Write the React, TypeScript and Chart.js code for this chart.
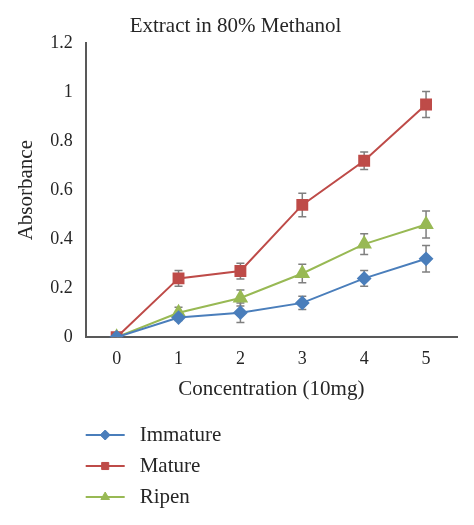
import React, { useEffect, useRef } from "react";
import { Chart, registerables } from "chart.js";
import { drawPoint } from "chart.js/helpers";

Chart.register(...registerables);

const categories = ["0", "1", "2", "3", "4", "5"];
const immature = [0, 0.08, 0.1, 0.14, 0.24, 0.32];
const immatureErr = [0, 0.012, 0.04, 0.027, 0.032, 0.054];
const mature = [0, 0.24, 0.27, 0.54, 0.72, 0.95];
const matureErr = [0, 0.032, 0.032, 0.048, 0.036, 0.053];
const ripen = [0, 0.1, 0.16, 0.26, 0.38, 0.46];
const ripenErr = [0, 0.022, 0.033, 0.038, 0.042, 0.055];
const seriesNames = ["Immature", "Mature", "Ripen"];

const FONT = "'Liberation Serif', 'Times New Roman', serif";
const TEXT = "#262626";

const errorBarPlugin = {
  id: "errorBars",
  beforeDatasetsDraw(chart: any) {
    const ctx = chart.ctx;
    const y = chart.scales.y;
    ctx.save();
    ctx.strokeStyle = "#7f7f7f";
    ctx.lineWidth = 1.5;
    chart.data.datasets.forEach((ds: any, di: number) => {
      const meta = chart.getDatasetMeta(di);
      const errs: number[] = ds.errors || [];
      meta.data.forEach((pt: any, i: number) => {
        const e = errs[i];
        if (!e) return;
        const v = ds.data[i];
        const x = pt.x;
        const yt = y.getPixelForValue(v + e);
        const yb = y.getPixelForValue(v - e);
        const cap = 4;
        ctx.beginPath();
        ctx.moveTo(x, yt);
        ctx.lineTo(x, yb);
        ctx.moveTo(x - cap, yt);
        ctx.lineTo(x + cap, yt);
        ctx.moveTo(x - cap, yb);
        ctx.lineTo(x + cap, yb);
        ctx.stroke();
      });
    });
    ctx.restore();
  },
};

const legendPlugin = {
  id: "verticalLegend",
  afterDraw(chart: any) {
    const ctx = chart.ctx;
    const left = chart.chartArea.left;
    const top = chart.scales.x.bottom + 33;
    const gap = 31;
    ctx.save();
    chart.data.datasets.forEach((ds: any, i: number) => {
      const yy = top + i * gap;
      ctx.strokeStyle = ds.borderColor;
      ctx.lineWidth = 2;
      ctx.beginPath();
      ctx.moveTo(left, yy);
      ctx.lineTo(left + 39, yy);
      ctx.stroke();
      ctx.fillStyle = ds.backgroundColor;
      ctx.strokeStyle = ds.borderColor;
      ctx.lineWidth = 1;
      drawPoint(ctx, { pointStyle: ds.pointStyle, radius: 5, borderWidth: 1, rotation: 0 } as any, left + 19.5, yy);
      ctx.fillStyle = TEXT;
      ctx.font = `21px ${FONT}`;
      ctx.textBaseline = "middle";
      ctx.textAlign = "left";
      ctx.fillText(ds.label, left + 54, yy);
    });
    ctx.restore();
  },
};

export default function App() {
  const ref = useRef<HTMLCanvasElement | null>(null);
  useEffect(() => {
    if (!ref.current) return;
    const chart = new Chart(ref.current, {
      type: "line",
      data: {
        labels: categories,
        datasets: [
          {
            label: seriesNames[0],
            data: immature,
            errors: immatureErr,
            borderColor: "#4a7ebb",
            backgroundColor: "#4a7ebb",
            pointStyle: "rectRot",
            pointRadius: 6,
            borderWidth: 2,
          } as any,
          {
            label: seriesNames[1],
            data: mature,
            errors: matureErr,
            borderColor: "#be4b48",
            backgroundColor: "#be4b48",
            pointStyle: "rect",
            pointRadius: 7,
            borderWidth: 2,
          } as any,
          {
            label: seriesNames[2],
            data: ripen,
            errors: ripenErr,
            borderColor: "#98b954",
            backgroundColor: "#98b954",
            pointStyle: "triangle",
            pointRadius: 7,
            borderWidth: 2,
          } as any,
        ],
      },
      options: {
        animation: false,
        responsive: true,
        maintainAspectRatio: false,
        layout: { padding: { top: 10, left: 14, right: 17, bottom: 123 } },
        plugins: {
          legend: { display: false },
          tooltip: { enabled: false },
          title: {
            display: true,
            text: "Extract in 80% Methanol",
            color: TEXT,
            font: { family: FONT, size: 21, weight: "normal" },
            padding: { top: 4, bottom: 4 },
          },
        },
        scales: {
          x: {
            offset: true,
            grid: { display: true, drawOnChartArea: false, drawTicks: false },
            border: { display: true, color: "#595959", width: 2 },
            ticks: { color: TEXT, font: { family: FONT, size: 18 }, padding: 11 },
            title: {
              display: true,
              text: "Concentration (10mg)",
              color: TEXT,
              font: { family: FONT, size: 21 },
              padding: { top: -4, bottom: 0 },
            },
          },
          y: {
            min: 0,
            max: 1.2,
            grid: { display: true, drawOnChartArea: false, drawTicks: false },
            border: { display: true, color: "#595959", width: 2 },
            ticks: {
              stepSize: 0.2,
              color: TEXT,
              font: { family: FONT, size: 18 },
              padding: 13,
              callback: (v: any) => String(Number(Number(v).toFixed(1))),
            },
            title: {
              display: true,
              text: "Absorbance",
              color: TEXT,
              font: { family: FONT, size: 21 },
              padding: { top: 0, bottom: -2 },
            },
          },
        },
      },
      plugins: [errorBarPlugin, legendPlugin],
    });
    return () => chart.destroy();
  }, []);
  return (
    <div style={{ position: "fixed", left: 0, top: 0, width: 474, height: 525, background: "#fff" }}>
      <canvas ref={ref} />
    </div>
  );
}
